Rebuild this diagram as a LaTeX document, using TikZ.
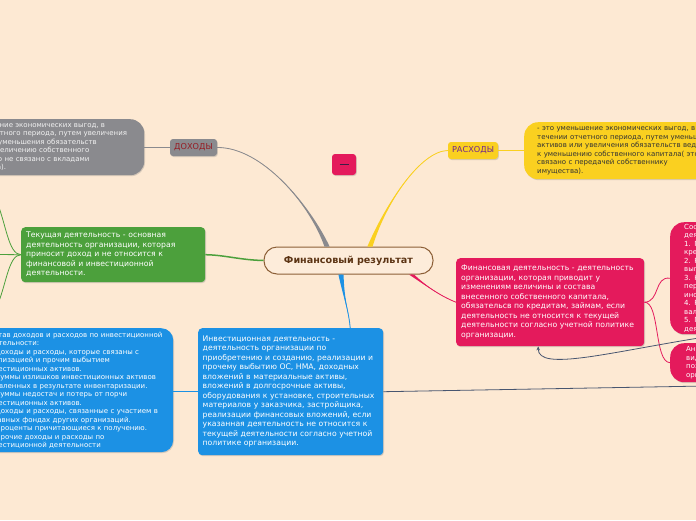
\documentclass[tikz,border=0pt]{standalone}
\usepackage{fontspec}
\setmainfont{DejaVu Sans}
\usetikzlibrary{arrows.meta,shadows}

\definecolor{bgpeach}{RGB}{253,233,211}
\definecolor{resultfill}{RGB}{253,236,218}
\definecolor{resultline}{RGB}{140,95,55}
\definecolor{resulttext}{RGB}{92,52,20}
\definecolor{topicgray}{RGB}{138,138,142}
\definecolor{dohodytext}{RGB}{150,28,36}
\definecolor{topicyellow}{RGB}{250,208,32}
\definecolor{rashodytext}{RGB}{115,40,140}
\definecolor{topicgreen}{RGB}{76,160,60}
\definecolor{topicpink}{RGB}{228,26,92}
\definecolor{topicblue}{RGB}{28,145,228}
\definecolor{linkdark}{RGB}{72,86,112}
\definecolor{minusbar}{RGB}{60,30,70}

\newcommand{\taper}[5]{%
    \fill[#1] ([xshift=-2.6pt]#2) .. controls (#3) and (#4) .. (#5)
        .. controls (#4) and (#3) .. ([xshift=2.6pt]#2) -- cycle;
    \draw[#1, line width=0.8pt] (#2) .. controls (#3) and (#4) .. (#5);}

\tikzset{
    softshadow/.style={drop shadow={shadow xshift=0.8pt, shadow yshift=-1pt, opacity=0.3}},
    topic/.style={anchor=north west, rounded corners=4pt, inner xsep=5pt, inner ysep=3pt,
        align=left, text=white, font=\fontsize{7.7}{9.5}\selectfont, softshadow},
    detail/.style={anchor=north west, rounded corners=14pt, inner xsep=6pt, inner ysep=1pt,
        align=left, font=\fontsize{7}{8.5}\selectfont, softshadow},
    tag/.style={rounded corners=3pt, inner sep=1pt, font=\fontsize{8.2}{9}\selectfont, softshadow},
    thinlink/.style={line width=0.8pt},
}

\begin{document}
\begin{tikzpicture}[x=1pt, y=-1pt]
    \useasboundingbox (0,0) rectangle (696,520);
    \clip (0,0) rectangle (696,520);
    \fill[bgpeach] (0,0) rectangle (696,520);

    \node[draw=resultline, line width=1pt, fill=resultfill, rounded corners=13pt,
        minimum width=169pt, minimum height=27pt, text=resulttext,
        font=\fontsize{9.6}{11}\selectfont\bfseries] (result) at (348.5,260.5) {Финансовый результат};

    \node[tag, fill=topicgray, text=dohodytext, minimum width=47pt, minimum height=17pt] (dohody) at (193.5,147.5) {ДОХОДЫ};
    \node[detail, fill=topicgray, text=white!90!gray, text width=188pt, minimum height=56pt] (dohodydef) at (-56,119) {- это увеличение экономических выгод, в\\
течении отчетного периода, путем увеличения\\
активов или уменьшения обязательств\\
ведущих к увеличению собственного\\
капитала( это не связано с вкладами\\
собственника).};

    \node[tag, fill=topicyellow, text=rashodytext, minimum width=50pt, minimum height=17pt] (rashody) at (473,150.5) {РАСХОДЫ};
    \node[detail, fill=topicyellow, text=black!80, inner xsep=13pt, text width=230pt, minimum height=57pt] (rashodydef) at (524,122) {- это уменьшение экономических выгод, в\\
течении отчетного периода, путем уменьшения\\
активов или увеличения обязательств ведущих\\
к уменьшению собственного капитала( это не\\
связано с передачей собственнику\\
имущества).};

    \node[tag, fill=topicpink, minimum width=24pt, minimum height=21pt] (collapse) at (344,164.5) {\color{minusbar}\rule{9pt}{1.8pt}};

    \node[topic, fill=topicgreen, text width=174pt, minimum height=55pt] (current) at (21,227) {Текущая деятельность - основная\\
деятельность организации, которая\\
приносит доход и не относится к\\
финансовой и инвестиционной\\
деятельности.};

    \node[topic, fill=topicpink, text width=178pt, minimum height=88pt] (financial) at (456,258) {Финансовая деятельность - деятельность\\
организации, которая приводит у\\
изменениям величины и состава\\
внесенного собственного капитала,\\
обязательсв по кредитам, займам, если\\
деятельность не относится к текущей\\
деятельности согласно учетной политике\\
организации.};

    \node[detail, fill=topicpink, text=white, inner xsep=14pt, text width=200pt, minimum height=112pt] (finlist) at (670,222) {Состав доходов и расходов по финансовой\\
деятельности:\\
1. Проценты к уплате по полученным\\
кредитам и займам.\\
2. Расходы на дополнительные\\
выплаты по кредитам.\\
3. Начисления, связанные с\\
переоценкой долговых обязательств в\\
иностранной валюте.\\
4. Расходы по покупке\\
валюты.\\
5. Прочие доходы и расходы по финансовой\\
деятельности.};
    \node[detail, fill=topicpink, text=white, inner xsep=16pt, text width=200pt, minimum height=39pt] (finnote) at (670,343) {Анализ финансовой\\
видов деятельности\\
позволяет оценить\\
организации.};

    \node[topic, fill=topicblue, inner xsep=4.5pt, text width=176pt, minimum height=127pt] (investment) at (198,328) {Инвестиционная деятельность -\\
деятельность организации по\\
приобретению и созданию, реализации и\\
прочему выбытию ОС, НМА, доходных\\
вложений в материальные активы,\\
вложений в долгосрочные активы,\\
оборудования к установке, строительных\\
материалов у заказчика, застройщика,\\
реализации финансовых вложений, если\\
указанная деятельность не относится к\\
текущей деятельности согласно учетной\\
политике организации.};
    \node[detail, fill=topicblue, text=white, rounded corners=12pt, text width=182pt, minimum height=124pt] (invlist) at (-21,328) {Состав доходов и расходов по инвестиционной\\
деятельности:\\
1. Доходы и расходы, которые связаны с\\
реализацией и прочим выбытием\\
инвестиционных активов.\\
2. Суммы излишков инвестиционных активов\\
выявленных в результате инвентаризации.\\
3. Суммы недостач и потерь от порчи\\
инвестиционных активов.\\
4. Доходы и расходы, связанные с участием в\\
уставных фондах других организаций.\\
5. Проценты причитающиеся к получению.\\
6. Прочие доходы и расходы по\\
инвестиционной деятельности};

    \coordinate (grayroot) at ([xshift=-21.5pt]result.north);
    \coordinate (yellowroot) at ([xshift=21.5pt]result.north);
    \coordinate (pinkroot) at ([xshift=63pt]result.south);
    \coordinate (blueroot) at ([xshift=-7.5pt]result.south);
    \coordinate (bluetip) at ([xshift=59.5pt]investment.north);
    \taper{topicgray}{grayroot}{310,205}{262,147}{dohody.east}
    \taper{topicyellow}{yellowroot}{385,205}{420,151}{rashody.west}
    \taper{topicpink}{pinkroot}{425,285}{440,296}{financial.west}
    \taper{topicblue}{blueroot}{344,300}{349,312}{bluetip}
    \draw[topicgreen, line width=1.5pt] (result.west) .. controls (240,260) and (225,255) .. (current.east);

    \draw[topicgray, thinlink] (dohody.west) -- (dohody.west -| dohodydef.east);
    \draw[topicyellow, thinlink] (rashody.east) -- (rashody.east -| rashodydef.west);

    \coordinate (greenup) at (-4,200);
    \coordinate (greenmid) at (-4,254.5);
    \coordinate (greendown) at (-4,308);
    \draw[topicgreen, thinlink] (current.west) .. controls (8,254.5) and (6,222) .. (greenup);
    \draw[topicgreen, thinlink] (current.west) -- (greenmid);
    \draw[topicgreen, thinlink] (current.west) .. controls (8,254.5) and (6,288) .. (greendown);

    \draw[topicpink, thinlink] (financial.east) .. controls (660,302) and (654,276) .. (finlist.west);
    \draw[topicpink, thinlink] (financial.east) .. controls (660,302) and (654,362) .. (finnote.west);

    \draw[topicblue, thinlink] (investment.west) -- (investment.west -| invlist.east);

    \coordinate (farlink) at (705,386);
    \coordinate (farsource) at (705,337);
    \draw[linkdark, thinlink] (investment.east) -- (farlink);
    \draw[linkdark, thinlink, -{Stealth[length=4pt, width=3.5pt]}] (farsource) .. controls (610,352) and (538,372) .. ([xshift=-12pt]financial.south);
\end{tikzpicture}
\end{document}
